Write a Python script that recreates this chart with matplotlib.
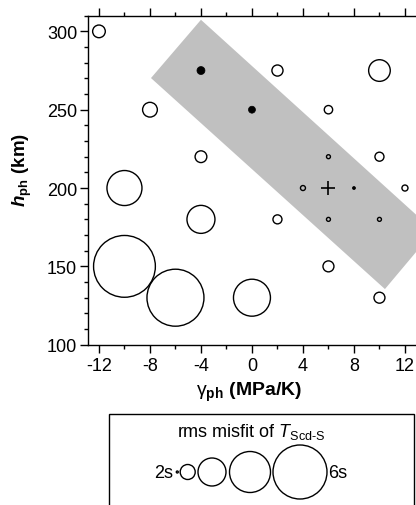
import matplotlib
matplotlib.use("Agg")
import matplotlib.pyplot as plt
from matplotlib.patches import Polygon, Rectangle
from matplotlib.ticker import MultipleLocator

plt.rcParams['font.family'] = ['Liberation Sans', 'DejaVu Sans']
plt.rcParams['mathtext.fontset'] = 'custom'
plt.rcParams['mathtext.rm'] = 'Liberation Sans'
plt.rcParams['mathtext.it'] = 'Liberation Sans:italic'
plt.rcParams['mathtext.bf'] = 'Liberation Sans:bold'
plt.rcParams['mathtext.bfit'] = 'Liberation Sans:bold:italic'
plt.rcParams['axes.unicode_minus'] = False

# ---- data ----
gamma_open = [-12, 2, 10, -8, 6, -4, 6, 10, -10, 4, 12, -4, 2, 6, 10, -10, -6, 0, 6, 10]
h_open = [300, 275, 275, 250, 250, 220, 220, 220, 200, 200, 200, 180, 180, 180, 180, 150, 130, 130, 150, 130]
misfit_open = [2.82, 2.70, 3.51, 2.98, 2.49, 2.75, 2.15, 2.54, 4.54, 2.23, 2.31, 4.00, 2.54, 2.15, 2.15, 6.60, 6.23, 4.69, 2.69, 2.69]

gamma_fill = [-4, 0, 8]
h_fill = [275, 250, 200]
misfit_fill = [2.46, 2.38, 2.08]

gamma_best = [6]
h_best = [200]

band_gamma = [-4.0, -7.92, 10.43, 14.27]
band_h = [307.4, 270.2, 135.5, 172.7]

legend_misfit = [2, 3, 4, 5, 6]

xticks = [-12, -8, -4, 0, 4, 8, 12]
yticks = [100, 150, 200, 250, 300]


def size_of(m):
    d_px = 13.0 * (m - 2.0) + 2.0
    d_pt = d_px * 0.72
    return d_pt ** 2


W, H = 416, 506
fig = plt.figure(figsize=(W / 100, H / 100), dpi=100)
ax = fig.add_axes([88 / W, 1 - 345.7 / H, (420 - 88) / W, (345.7 - 16.7) / H])
ax.set_xlim(-12.86, 13.18)
ax.set_ylim(100, 310)

ax.add_patch(Polygon(list(zip(band_gamma, band_h)), closed=True,
                     facecolor='#c0c0c0', edgecolor='none', zorder=1))

ax.scatter(gamma_open, h_open, s=[size_of(m) for m in misfit_open],
           facecolors='none', edgecolors='black', linewidths=1.0, zorder=3)
ax.scatter(gamma_fill, h_fill, s=[size_of(m) for m in misfit_fill],
           facecolors='black', edgecolors='black', linewidths=0.5, zorder=3)
ax.scatter(gamma_best, h_best, marker='+', s=90, color='black', linewidths=1.2, zorder=3)

ax.set_xticks(xticks)
ax.set_xticklabels([str(v) for v in xticks])
ax.set_yticks(yticks)
ax.xaxis.set_minor_locator(MultipleLocator(2))
ax.yaxis.set_minor_locator(MultipleLocator(10))
ax.tick_params(which='both', direction='out', top=True, right=False, width=1.0,
               labelsize=13, colors='black')
ax.tick_params(which='major', length=5.8)
ax.tick_params(which='minor', length=2.8)
ax.tick_params(axis='x', pad=3)
ax.tick_params(axis='y', pad=2)
for sp in ax.spines.values():
    sp.set_linewidth(1.0)

fig.text(22 / W, 1 - 170 / H, r"$\mathbfit{h}_{\mathbf{ph}}\ \mathbf{(km)}$",
         rotation=90, ha='center', va='center', fontsize=13.5)
fig.text(249 / W, 1 - 392 / H, r"$\mathrm{\gamma}_{\mathbf{ph}}\ \mathbf{(MPa/K)}$",
         ha='center', va='center', fontsize=14)

# ---- legend box in pixel coordinates ----
lax = fig.add_axes([0, 0, 1, 1], facecolor='none')
lax.set_xlim(0, W)
lax.set_ylim(H, 0)
lax.axis('off')
lax.add_patch(Rectangle((109, 415), 414 - 109, 120, facecolor='white',
                        edgecolor='black', linewidth=1.0, clip_on=False))
lax.text(251, 432, r"rms misfit of $\mathit{T}_{\mathrm{Scd\text{-}S}}$",
         ha='center', va='center', fontsize=13)
leg_x = [177.3, 187.7, 212, 250, 300]
lax.scatter(leg_x, [473] * len(leg_x), s=[size_of(m) for m in legend_misfit],
            facecolors='none', edgecolors='black', linewidths=1.0)
lax.text(173, 474, "2s", ha='right', va='center', fontsize=13)
lax.text(328.5, 474, "6s", ha='left', va='center', fontsize=13)

fig.savefig("out.png", dpi=100)
